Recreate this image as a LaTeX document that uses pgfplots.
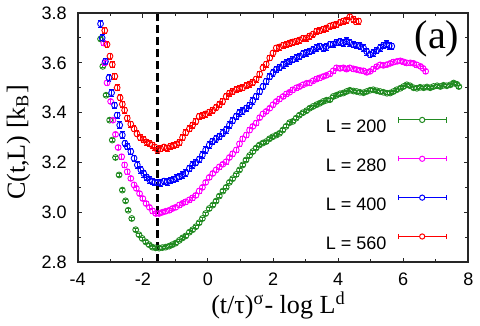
\documentclass[border=0pt]{standalone}
\usepackage{fontspec}
\setmainfont{Liberation Serif}
\setsansfont{Liberation Sans}
\usepackage{pgfplots}
\pgfplotsset{compat=1.18}
\definecolor{cgreen}{RGB}{34,139,34}
\definecolor{cmag}{RGB}{255,0,255}
\definecolor{cblue}{RGB}{0,0,255}
\definecolor{cred}{RGB}{255,0,0}

\pgfplotsset{
  errpts/.style={only marks, mark=o, mark size=1.45pt,
    mark options={line width=0.45pt},
    error bars/y dir=both, error bars/y fixed=#1,
    error bars/error bar style={line width=0.4pt},
    error bars/error mark options={rotate=90, mark size=1.2pt, line width=0.4pt}},
}

\begin{document}
\begin{tikzpicture}
\begin{axis}[
    scale only axis, width=194.5pt, height=124pt,
    xmin=-4, xmax=8, ymin=2.8, ymax=3.8,
    axis on top,
    axis line style={line width=0.6pt, draw=black!85},
    every tick/.append style={line width=0.5pt, black!85},
    xtick={-4,-2,0,2,4,6,8},
    xticklabels={-4,-2,0,2,4,6,8},
    ytick={2.8,3.0,3.2,3.4,3.6,3.8},
    yticklabels={2.8,3.0,3.2,3.4,3.6,3.8},
    minor x tick num=1, minor y tick num=1,
    tick align=inside, major tick length=2.2pt, minor tick length=1.6pt,
    unbounded coords=jump,
    tick label style={font=\fontsize{9}{10}\sffamily},
    xticklabel style={yshift=-2pt},
    yticklabel style={xshift=-2pt},
    xlabel={(t/τ)\textsuperscript{σ}- log L\textsuperscript{d}},
    ylabel={C(t,L) [k\textsubscript{B}]},
    label style={font=\fontsize{13}{14}\selectfont},
    xlabel style={at={(rel axis cs:0.514,0)}, anchor=center, yshift=-21.5pt},
    ylabel style={at={(rel axis cs:0,0.48)}, anchor=center, yshift=29.5pt},
    legend plot pos=right,
    legend cell align=right,
    legend style={at={(rel axis cs:0.946,0.585)}, anchor=north east,
      draw=none, fill=none, inner sep=0pt, font=\fontsize{9}{10}\sffamily,
      row sep=11.3pt, column sep=5.5pt,
      nodes={inner sep=0pt, text height=6.5pt, text depth=0pt}},
    legend image code/.code={
      \draw[line width=0.5pt] (0pt,3.25pt) -- (24pt,3.25pt);
      \draw[line width=0.5pt] (0pt,1.95pt) -- (0pt,4.55pt);
      \draw[line width=0.5pt] (24pt,1.95pt) -- (24pt,4.55pt);
      \draw[line width=0.5pt, fill=white] (12pt,3.25pt) circle (1.3pt);
    },
]

% L = 200
\addplot[cgreen, errpts=0.006] coordinates {
(-3.30,3.696)(-3.23,3.586)(-3.13,3.470)(-3.02,3.370)(-2.94,3.290)(-2.84,3.220)
(-2.73,3.150)(-2.63,3.089)(-2.53,3.046)(-2.45,3.008)(-2.34,2.975)(-2.22,2.930)
(-2.12,2.910)(-2.02,2.895)(-1.91,2.881)(-1.81,2.870)(-1.71,2.860)(-1.61,2.857)
(-1.50,2.856)(-1.40,2.858)(-1.30,2.860)(-1.19,2.864)(-1.09,2.870)(-0.99,2.876)
(-0.88,2.887)(-0.78,2.897)(-0.68,2.905)(-0.57,2.920)(-0.47,2.930)(-0.37,2.942)
(-0.27,2.958)(-0.17,2.975)(-0.07,2.995)(0.04,3.015)(0.15,3.029)(0.25,3.045)
(0.35,3.065)(0.46,3.085)(0.56,3.100)(0.66,3.120)(0.76,3.135)(0.87,3.152)
(0.97,3.170)(1.07,3.190)(1.17,3.210)(1.28,3.228)(1.38,3.244)(1.48,3.258)
(1.58,3.270)(1.69,3.278)(1.79,3.284)(1.89,3.295)(1.99,3.303)(2.10,3.310)
(2.20,3.317)(2.30,3.330)(2.40,3.345)(2.51,3.360)(2.61,3.365)(2.71,3.378)
(2.81,3.390)(2.92,3.400)(3.03,3.408)(3.13,3.418)(3.23,3.425)(3.34,3.432)
(3.44,3.438)(3.54,3.445)(3.64,3.450)(3.75,3.452)(3.85,3.465)(3.95,3.470)
(4.06,3.476)(4.16,3.479)(4.26,3.485)(4.36,3.490)(4.47,3.487)(4.57,3.485)
(4.67,3.482)(4.78,3.480)(4.88,3.485)(4.98,3.490)(5.08,3.492)(5.19,3.488)
(5.29,3.485)(5.39,3.482)(5.50,3.478)(5.60,3.479)(5.70,3.485)(5.80,3.492)
(5.91,3.498)(6.01,3.505)(6.11,3.512)(6.21,3.508)(6.32,3.500)(6.42,3.498)
(6.52,3.502)(6.63,3.500)(6.73,3.503)(6.83,3.500)(6.93,3.505)(7.04,3.508)
(7.14,3.505)(7.24,3.510)(7.34,3.508)(7.45,3.512)(7.55,3.519)(7.65,3.514)
(7.71,3.505)
};
\addlegendentry{L = 200}

% L = 280
\addplot[cmag, errpts=0.009] coordinates {
(-3.20,3.680)(-3.17,3.600)(-3.10,3.520)(-2.99,3.445)(-2.92,3.370)(-2.84,3.313)
(-2.76,3.260)(-2.65,3.223)(-2.56,3.190)(-2.48,3.163)(-2.37,3.136)(-2.27,3.110)
(-2.20,3.096)(-2.10,3.075)(-2.00,3.055)(-1.90,3.035)(-1.80,3.020)(-1.70,3.005)
(-1.60,2.995)(-1.50,2.995)(-1.40,3.000)(-1.30,3.004)(-1.19,3.008)(-1.09,3.015)
(-0.99,3.020)(-0.88,3.029)(-0.78,3.036)(-0.68,3.042)(-0.57,3.050)(-0.47,3.058)
(-0.37,3.068)(-0.27,3.085)(-0.17,3.100)(-0.07,3.120)(0.04,3.140)(0.15,3.156)
(0.25,3.170)(0.35,3.182)(0.46,3.193)(0.56,3.203)(0.66,3.220)(0.76,3.235)
(0.87,3.250)(0.97,3.275)(1.07,3.295)(1.18,3.310)(1.28,3.330)(1.38,3.345)
(1.48,3.358)(1.59,3.380)(1.69,3.395)(1.79,3.405)(1.90,3.418)(2.00,3.432)
(2.10,3.445)(2.20,3.455)(2.31,3.465)(2.41,3.475)(2.51,3.482)(2.61,3.492)
(2.72,3.500)(2.82,3.505)(2.92,3.512)(3.03,3.518)(3.13,3.520)(3.23,3.528)
(3.34,3.535)(3.44,3.540)(3.54,3.545)(3.64,3.550)(3.75,3.556)(3.85,3.568)
(3.95,3.580)(4.06,3.578)(4.16,3.580)(4.26,3.575)(4.36,3.580)(4.47,3.576)
(4.57,3.573)(4.67,3.570)(4.78,3.568)(4.88,3.562)(4.98,3.566)(5.08,3.575)
(5.19,3.585)(5.29,3.592)(5.39,3.590)(5.50,3.593)(5.60,3.598)(5.70,3.603)
(5.81,3.606)(5.91,3.608)(6.01,3.604)(6.11,3.600)(6.22,3.600)(6.32,3.598)
(6.42,3.592)(6.53,3.586)(6.61,3.578)(6.69,3.566)
};
\addlegendentry{L = 280}

% L = 400
\addplot[cblue, errpts=0.013] coordinates {
(-3.30,3.757)(-3.25,3.700)(-3.15,3.606)(-3.04,3.540)(-2.96,3.480)(-2.87,3.430)
(-2.79,3.390)(-2.71,3.350)(-2.63,3.310)(-2.55,3.277)(-2.48,3.264)(-2.37,3.244)
(-2.27,3.217)(-2.17,3.190)(-2.06,3.170)(-1.97,3.155)(-1.88,3.140)(-1.79,3.130)
(-1.71,3.123)(-1.63,3.120)(-1.55,3.119)(-1.45,3.118)(-1.35,3.125)(-1.25,3.122)
(-1.15,3.127)(-1.05,3.132)(-0.96,3.138)(-0.88,3.143)(-0.78,3.150)(-0.68,3.158)
(-0.57,3.176)(-0.47,3.190)(-0.37,3.200)(-0.27,3.212)(-0.17,3.230)(-0.07,3.250)
(0.04,3.270)(0.14,3.285)(0.25,3.295)(0.35,3.304)(0.46,3.318)(0.56,3.331)
(0.66,3.350)(0.76,3.368)(0.87,3.385)(0.97,3.400)(1.07,3.408)(1.18,3.418)
(1.28,3.430)(1.38,3.448)(1.48,3.465)(1.59,3.485)(1.69,3.505)(1.79,3.526)
(1.90,3.545)(2.00,3.560)(2.10,3.573)(2.20,3.582)(2.31,3.592)(2.41,3.600)
(2.51,3.606)(2.61,3.614)(2.72,3.620)(2.82,3.627)(2.92,3.636)(3.03,3.640)
(3.13,3.647)(3.23,3.652)(3.34,3.660)(3.44,3.667)(3.54,3.660)(3.64,3.665)
(3.75,3.674)(3.85,3.675)(3.95,3.682)(4.06,3.685)(4.16,3.680)(4.26,3.688)
(4.36,3.680)(4.47,3.674)(4.57,3.670)(4.67,3.668)(4.78,3.660)(4.88,3.645)
(4.98,3.633)(5.08,3.640)(5.19,3.650)(5.29,3.660)(5.39,3.670)(5.49,3.676)
(5.57,3.668)(5.65,3.667)
};
\addlegendentry{L = 400}

% L = 560
\addplot[cred, errpts=0.012] coordinates {
(-3.17,3.730)(-3.10,3.674)(-3.01,3.627)(-2.94,3.593)(-2.86,3.546)(-2.79,3.500)
(-2.70,3.460)(-2.63,3.434)(-2.56,3.410)(-2.48,3.378)(-2.37,3.354)(-2.27,3.335)
(-2.18,3.315)(-2.08,3.300)(-1.98,3.292)(-1.88,3.282)(-1.79,3.275)(-1.71,3.270)
(-1.63,3.262)(-1.55,3.250)(-1.45,3.255)(-1.35,3.262)(-1.25,3.258)(-1.15,3.265)
(-1.05,3.268)(-0.96,3.272)(-0.88,3.280)(-0.78,3.300)(-0.68,3.320)(-0.57,3.335)
(-0.47,3.350)(-0.37,3.365)(-0.27,3.385)(-0.17,3.390)(-0.07,3.395)(0.04,3.402)
(0.15,3.410)(0.25,3.420)(0.35,3.432)(0.45,3.445)(0.56,3.465)(0.66,3.478)
(0.76,3.485)(0.87,3.492)(0.97,3.498)(1.07,3.500)(1.18,3.508)(1.28,3.515)
(1.38,3.522)(1.48,3.535)(1.59,3.555)(1.69,3.580)(1.79,3.595)(1.90,3.620)
(2.00,3.640)(2.10,3.660)(2.20,3.664)(2.31,3.670)(2.41,3.674)(2.51,3.680)
(2.61,3.684)(2.72,3.687)(2.82,3.692)(2.92,3.698)(3.03,3.700)(3.13,3.708)
(3.23,3.715)(3.34,3.727)(3.44,3.730)(3.54,3.735)(3.64,3.740)(3.75,3.748)
(3.85,3.752)(3.95,3.754)(4.06,3.762)(4.16,3.768)(4.26,3.772)(4.36,3.785)
(4.47,3.775)(4.55,3.765)(4.63,3.768)
};
\addlegendentry{L = 560}

% vertical marker line
\addplot[black, line width=1.2pt, dash pattern=on 4pt off 2pt, forget plot]
  coordinates {(-1.55,2.8) (-1.55,3.8)};

% frame and mirrored ticks, drawn as plain paths in axis units
\addplot[black!85, line width=1.2pt, forget plot]
  coordinates {(-4,2.8)(8,2.8)(8,3.8)(-4,3.8)(-4,2.8)};
\addplot[black!85, line width=0.5pt, forget plot] coordinates {
(-3,2.8)(-3,2.813)(-3,nan)(-2,2.8)(-2,2.818)(-2,nan)(-1,2.8)(-1,2.813)(-1,nan)
(0,2.8)(0,2.818)(0,nan)(1,2.8)(1,2.813)(1,nan)(2,2.8)(2,2.818)(2,nan)
(3,2.8)(3,2.813)(3,nan)(4,2.8)(4,2.818)(4,nan)(5,2.8)(5,2.813)(5,nan)
(6,2.8)(6,2.818)(6,nan)(7,2.8)(7,2.813)(7,nan)
(-3,3.8)(-3,3.787)(-3,nan)(-2,3.8)(-2,3.782)(-2,nan)(-1,3.8)(-1,3.787)(-1,nan)
(0,3.8)(0,3.782)(0,nan)(1,3.8)(1,3.787)(1,nan)(2,3.8)(2,3.782)(2,nan)
(3,3.8)(3,3.787)(3,nan)(4,3.8)(4,3.782)(4,nan)(5,3.8)(5,3.787)(5,nan)
(6,3.8)(6,3.782)(6,nan)(7,3.8)(7,3.787)(7,nan)
(-4,2.9)(-3.90,2.9)(nan,2.9)(-4,3.0)(-3.864,3.0)(nan,3.0)(-4,3.1)(-3.90,3.1)(nan,3.1)
(-4,3.2)(-3.864,3.2)(nan,3.2)(-4,3.3)(-3.90,3.3)(nan,3.3)(-4,3.4)(-3.864,3.4)(nan,3.4)
(-4,3.5)(-3.90,3.5)(nan,3.5)(-4,3.6)(-3.864,3.6)(nan,3.6)(-4,3.7)(-3.90,3.7)(nan,3.7)
(8,2.9)(7.90,2.9)(nan,2.9)(8,3.0)(7.864,3.0)(nan,3.0)(8,3.1)(7.90,3.1)(nan,3.1)
(8,3.2)(7.864,3.2)(nan,3.2)(8,3.3)(7.90,3.3)(nan,3.3)(8,3.4)(7.864,3.4)(nan,3.4)
(8,3.5)(7.90,3.5)(nan,3.5)(8,3.6)(7.864,3.6)(nan,3.6)(8,3.7)(7.90,3.7)
};

\node[font=\fontsize{20}{22}\selectfont] at (rel axis cs:0.92,0.895) {(a)};
\end{axis}
\end{tikzpicture}
\end{document}
